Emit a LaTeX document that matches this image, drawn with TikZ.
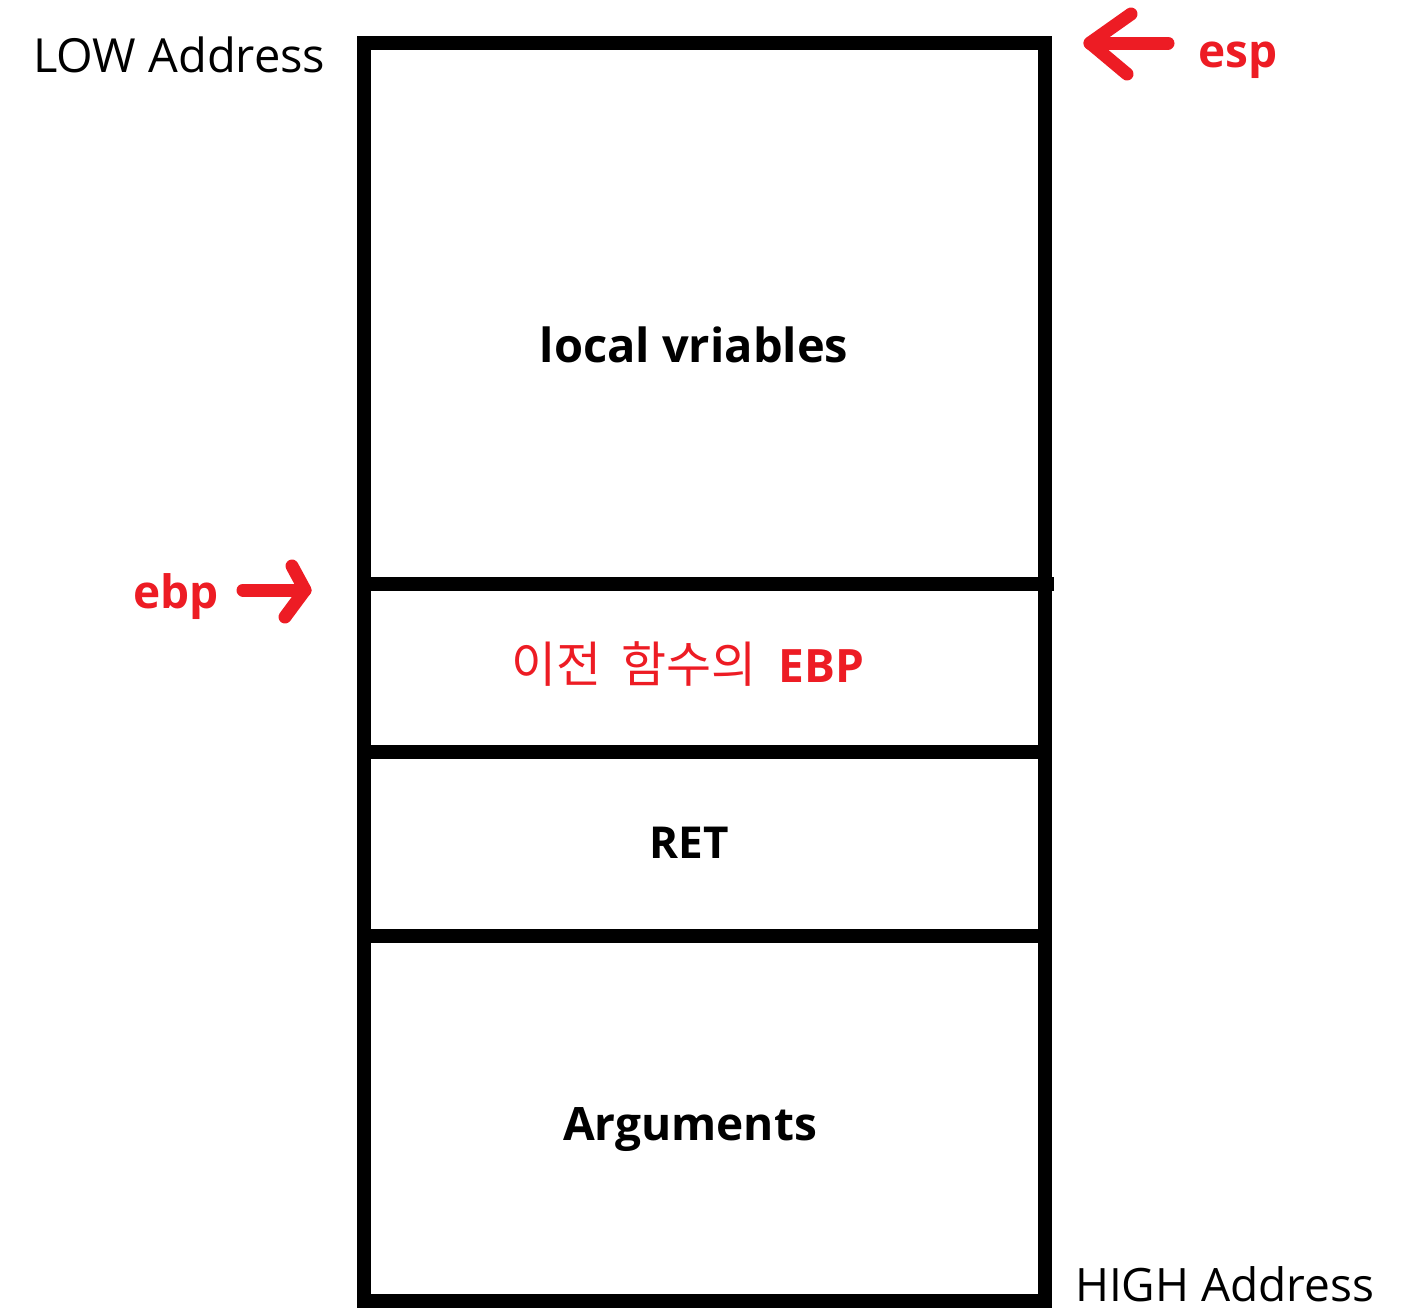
\documentclass[tikz,border=0pt]{standalone}
\usepackage{fontspec}
\setmainfont{Open Sans}
\newfontfamily\kofont{Noto Sans CJK KR}
\definecolor{paintred}{HTML}{ED1C24}

\begin{document}
\begin{tikzpicture}[x=1pt,y=-1pt,
  wall/.style={line width=14pt, line join=miter},
  pointer/.style={draw=paintred, line width=13pt, line cap=round, line join=round},
  celltext/.style={font=\fontsize{46}{52}\selectfont\bfseries, anchor=base, inner sep=0pt},
  addr/.style={font=\fontsize{47}{52}\selectfont, anchor=base west, inner sep=0pt},
  reg/.style={font=\fontsize{46}{52}\selectfont\bfseries, text=paintred, anchor=base west, inner sep=0pt}]
  \useasboundingbox (0,0) rectangle (1407,1310);

  % stack frame outline and slot boundaries
  \draw[wall] (364,43) rectangle (1045,1301);
  \coordinate (d1l) at (364,584);  \coordinate (d1r) at (1054,584);
  \coordinate (d2l) at (364,752);  \coordinate (d2r) at (1045,752);
  \coordinate (d3l) at (364,936);  \coordinate (d3r) at (1045,936);
  \draw[wall] (d1l) -- (d1r);
  \draw[wall] (d2l) -- (d2r);
  \draw[wall] (d3l) -- (d3r);

  % slot contents
  \node[celltext] (locals) at (694,362) {\fontsize{47}{52}\selectfont local vriables};
  \node[celltext, text=paintred] (oldebp) at (688,682)
    {{\kofont\mdseries\fontsize{49}{52}\selectfont 이전\hspace{20pt}함수의}\hspace{22pt}EBP};
  \node[celltext] (ret) at (689,858) {\fontsize{44}{50}\selectfont RET};
  \node[celltext] (args) at (690,1140) {Arguments};

  % address ends
  \node[addr] (low) at (33,72) {LOW Address};
  \node[addr] (high) at (1075,1301) {\fontsize{46}{52}\selectfont HIGH Address};

  % register pointers
  \node[reg] (esp) at (1198,67) {esp};
  \node[reg] (ebp) at (133,608) {ebp};

  \coordinate (esptip) at (1090,43);
  \coordinate (esptail) at (1168,43);
  \coordinate (espup) at (1131,14);
  \coordinate (espdn) at (1127,74);
  \draw[pointer] (esptail) -- (esptip);
  \draw[pointer] (espup) -- (esptip) -- (espdn);

  \coordinate (ebptip) at (305,590);
  \coordinate (ebptail) at (243,590);
  \coordinate (ebpup) at (292,566);
  \coordinate (ebpdn) at (285,617);
  \draw[pointer] (ebptail) -- (ebptip);
  \draw[pointer] (ebpup) -- (ebptip) -- (ebpdn);
\end{tikzpicture}
\end{document}
